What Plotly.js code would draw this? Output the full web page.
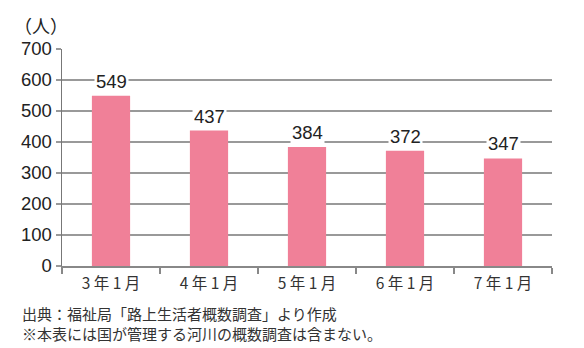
<!DOCTYPE html>
<html><head><meta charset="utf-8">
<script src="https://cdn.plot.ly/plotly-3.0.1.min.js"></script>
<style>html,body{margin:0;padding:0;background:#fff;}#c{width:584px;height:348px;}</style>
</head><body><div id="c"></div>
<script>
const categories = ["3 年 1 月", "4 年 1 月", "5 年 1 月", "6 年 1 月", "7 年 1 月"];
const values = [549, 437, 384, 372, 347];
const yTicks = [0, 100, 200, 300, 400, 500, 600, 700];
const unitLabel = "（人）";
const notes = ["出典：福祉局「路上生活者概数調査」より作成", "※本表には国が管理する河川の概数調査は含まない。"];

const jp = "'Noto Sans CJK JP', 'Liberation Sans', sans-serif";
const num = "'Liberation Sans', Arial, sans-serif";

const trace = {
  type: 'bar', x: categories, y: values,
  marker: {color: '#f08098'}, width: 0.39, hoverinfo: 'none'
};
const annotations = values.map((v, i) => ({
  x: categories[i], y: v, xref: 'x', yref: 'y', text: String(v),
  showarrow: false, yanchor: 'bottom', yshift: 2,
  font: {family: num, size: 18.5, color: '#222'}, bgcolor: '#fff', borderpad: 1
}));
annotations.push({xref: 'paper', yref: 'paper', x: -0.102, y: 1.11, xanchor: 'left', yanchor: 'middle',
  text: unitLabel, showarrow: false, font: {family: jp, size: 18, color: '#222'}});
const noteY = [-0.219, -0.312];
notes.forEach((t, i) => annotations.push({xref: 'paper', yref: 'paper', x: -0.083, y: noteY[i],
  xanchor: 'left', yanchor: 'middle', text: t, showarrow: false, borderpad: 0,
  font: {family: jp, size: 15, color: '#333'}}));

const layout = {
  width: 584, height: 348,
  margin: {l: 62, r: 32, t: 49, b: 82},
  paper_bgcolor: '#fff', plot_bgcolor: '#fff',
  showlegend: false, bargap: 0.61,
  xaxis: {type: 'category', showline: true, linecolor: '#888', linewidth: 1.5,
    ticks: 'outside', tickson: 'boundaries', ticklen: 6, tickcolor: '#888', tickwidth: 1.5,
    ticklabelstandoff: 3,
    tickfont: {family: jp, size: 15.5, color: '#333'}, showgrid: false, zeroline: false, fixedrange: true},
  yaxis: {range: [0, 700], tickvals: yTicks, showline: true, linecolor: '#777', linewidth: 1.5,
    showgrid: true, gridcolor: '#999', gridwidth: 1.3, ticks: 'outside', ticklen: 5, tickcolor: '#999', tickwidth: 1.3,
    tickfont: {family: num, size: 18.5, color: '#222'}, zeroline: false, fixedrange: true},
  annotations: annotations
};
Plotly.newPlot('c', [trace], layout, {displayModeBar: false, staticPlot: true});
</script></body></html>
